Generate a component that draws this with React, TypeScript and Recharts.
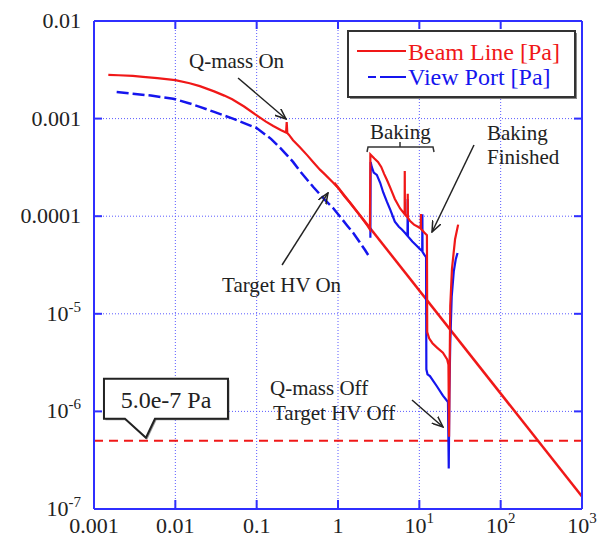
import React from 'react';
import { LineChart, Line, XAxis, YAxis, CartesianGrid, ReferenceLine, ReferenceDot, Legend } from 'recharts';

// ---------- data ----------
const beamTime = [0.0015, 0.002, 0.003, 0.004, 0.006, 0.01, 0.015, 0.02, 0.03, 0.04, 0.05, 0.07, 0.1, 0.13, 0.16, 0.2, 0.23, 0.234, 0.238, 0.25, 0.28, 0.34, 0.42, 0.5, 0.6, 0.7, 0.85, 1.0, 1.2, 1.4, 1.7, 2.0, 2.3, 2.47, 2.5, 2.8, 3.1, 3.4, 3.7, 4.0, 4.4, 5.0, 5.8, 6.6, 6.62, 6.65, 7.15, 7.2, 7.25, 7.7, 8.6, 9.6, 10.4, 10.45, 10.5, 11.5, 12.4, 12.5, 13.2, 14.5, 16.5, 19.5, 22, 22.8, 23.2, 23.6, 24, 25.2, 27.5, 30];
const beamPressure = [2.8e-3, 2.78e-3, 2.74e-3, 2.68e-3, 2.6e-3, 2.48e-3, 2.3e-3, 2.15e-3, 1.9e-3, 1.72e-3, 1.58e-3, 1.33e-3, 1.08e-3, 9.3e-4, 8.4e-4, 7.6e-4, 7.2e-4, 9.2e-4, 7.1e-4, 6.8e-4, 6.0e-4, 5.1e-4, 4.2e-4, 3.55e-4, 3.0e-4, 2.65e-4, 2.25e-4, 1.96e-4, 1.6e-4, 1.38e-4, 1.12e-4, 9.4e-5, 8.0e-5, 7.3e-5, 4.3e-4, 3.9e-4, 3.6e-4, 3.2e-4, 2.7e-4, 2.35e-4, 1.95e-4, 1.5e-4, 1.2e-4, 1.05e-4, 2.9e-4, 1.04e-4, 9.8e-5, 1.7e-4, 9.6e-5, 8.9e-5, 8.2e-5, 7.8e-5, 7.5e-5, 1.05e-4, 7.4e-5, 6.8e-5, 6.4e-5, 6.5e-6, 5.6e-6, 5.0e-6, 4.5e-6, 4.0e-6, 3.4e-6, 3.0e-6, 5.5e-7, 3e-6, 1.2e-5, 2.9e-5, 5.8e-5, 8.2e-5];

const viewTimeA = [0.0019, 0.003, 0.005, 0.0094, 0.015, 0.02, 0.03, 0.051, 0.07, 0.1, 0.15, 0.2, 0.237, 0.28, 0.34, 0.42, 0.5, 0.7, 0.88, 1.05, 1.3, 1.55, 1.85, 2.15, 2.35];
const viewPressureA = [1.87e-3, 1.8e-3, 1.72e-3, 1.6e-3, 1.43e-3, 1.32e-3, 1.17e-3, 1.0e-3, 9.0e-4, 8.0e-4, 6.2e-4, 4.9e-4, 4.2e-4, 3.6e-4, 2.9e-4, 2.35e-4, 1.98e-4, 1.45e-4, 1.2e-4, 1.0e-4, 8.0e-5, 6.7e-5, 5.4e-5, 4.5e-5, 4.0e-5];

const viewTimeB = [2.5, 2.52, 2.6, 2.75, 3.0, 3.3, 3.6, 4.0, 4.4, 5.0, 5.6, 6.1, 6.6, 7.15, 7.2, 7.25, 8.2, 9.2, 10.2, 10.85, 10.9, 10.95, 11.6, 12.1, 12.2, 12.6, 13.5, 16.5, 19.5, 22.5, 23.0, 23.4, 24, 25, 26.5, 28, 29.5];
const viewPressureB = [6.0e-5, 3.6e-4, 3.2e-4, 2.8e-4, 2.65e-4, 2.2e-4, 1.75e-4, 1.4e-4, 1.16e-4, 8.8e-5, 7.8e-5, 7.3e-5, 6.8e-5, 6.3e-5, 1.5e-4, 6.2e-5, 5.5e-5, 5.0e-5, 4.6e-5, 4.4e-5, 1.05e-4, 4.3e-5, 4.0e-5, 3.8e-5, 2.7e-6, 2.4e-6, 2.3e-6, 1.8e-6, 1.45e-6, 1.25e-6, 2.6e-7, 1.5e-6, 5e-6, 1.5e-5, 2.7e-5, 3.6e-5, 4.2e-5];

const fitTime = [0.9, 1000];
const fitPressure = [2.2e-4, 1.34e-7];

const targetPressure = 5e-7;

const xTickValues = [0.001, 0.01, 0.1, 1, 10, 100, 1000];
const xTickBase = ['0.001', '0.01', '0.1', '1', '10', '10', '10'];
const xTickExp = ['', '', '', '', '1', '2', '3'];
const yTickValues = [1e-7, 1e-6, 1e-5, 1e-4, 1e-3, 1e-2];
const yTickBase = ['10', '10', '10', '0.0001', '0.001', '0.01'];
const yTickExp = ['-7', '-6', '-5', '', '', ''];

// annotation texts, anchored in data space (log10 t, log10 P)
const noteTexts = ['Q-mass On', 'Target HV On', 'Baking', 'Baking', 'Finished', 'Q-mass Off', 'Target HV Off'];
const noteLogT = [-1.832, -1.426, 0.394, 1.832, 1.832, -0.836, -0.799];
const noteLogP = [-2.482, -4.777, -3.209, -3.219, -3.465, -5.832, -6.088];

// annotation arrows (log10 coordinates)
const arrowFromLogT = [-1.229, -0.688, 1.672, 0.910];
const arrowFromLogP = [-2.584, -4.5, -3.27, -5.883];
const arrowToLogT = [-0.639, -0.123, 1.156, 1.291];
const arrowToLogP = [-3.004, -3.762, -4.162, -6.16];

const bracketLogT = 0.369;
const bracketLogP = -3.291;
const calloutLogT = -2.361;

// ---------- helpers ----------
const toRows = (ts: number[], ps: number[]) => ts.map((t, i) => ({ t, p: ps[i] }));
const beamData = toRows(beamTime, beamPressure);
const viewDataA = toRows(viewTimeA, viewPressureA);
const viewDataB = toRows(viewTimeB, viewPressureB);
const fitData = toRows(fitTime, fitPressure);

const FONT = '"Liberation Serif", "Times New Roman", serif';
const AXIS = '#2f2fff';
const RED = '#f01818';
const BLUE = '#1515ee';
const INK = '#222';

const idxOf = (arr: number[], v: number) =>
  arr.findIndex((a) => Math.abs(Math.log10(a) - Math.log10(v)) < 0.01);

const LeftTick = (props: any) => {
  const { x, y, payload } = props;
  const i = idxOf(yTickValues, payload.value);
  if (i < 0) return null;
  return (
    <g>
      <line x1={x} y1={y} x2={x + 8} y2={y} stroke={AXIS} strokeWidth={2} />
      <text x={x - 13} y={y + 7} textAnchor="end" fontFamily={FONT} fontSize={22} fill={INK}>
        {yTickBase[i]}
        {yTickExp[i] ? <tspan dy={-9} fontSize={15}>{yTickExp[i]}</tspan> : null}
      </text>
    </g>
  );
};

const BottomTick = (props: any) => {
  const { x, y, payload } = props;
  const i = idxOf(xTickValues, payload.value);
  if (i < 0) return null;
  return (
    <g>
      <line x1={x} y1={y} x2={x} y2={y - 9} stroke={AXIS} strokeWidth={2} />
      <text x={x} y={y + 24} textAnchor="middle" fontFamily={FONT} fontSize={22} fill={INK}>
        {xTickBase[i]}
        {xTickExp[i] ? <tspan dy={-10} fontSize={15}>{xTickExp[i]}</tspan> : null}
      </text>
    </g>
  );
};

const TopTick = (props: any) => {
  const { x, y } = props;
  return <line x1={x} y1={y} x2={x} y2={y + 8} stroke={AXIS} strokeWidth={2} />;
};

const RightTick = (props: any) => {
  const { x, y } = props;
  return <line x1={x} y1={y} x2={x - 8} y2={y} stroke={AXIS} strokeWidth={2} />;
};

const LegendBox = () => (
  <svg width={232} height={71} style={{ display: 'block' }}>
    <rect x={3} y={3} width={227} height={66} fill="#888" />
    <rect x={1} y={1} width={227} height={66} fill="#fff" stroke="#333" strokeWidth={2} />
    <line x1={10} y1={21} x2={59} y2={21} stroke={RED} strokeWidth={2} />
    <text x={61} y={30} fontFamily={FONT} fontSize={24} fill={RED}>Beam Line [Pa]</text>
    <line x1={21} y1={47} x2={59} y2={47} stroke={BLUE} strokeWidth={2} strokeDasharray="8 4 26" />
    <text x={61} y={55} fontFamily={FONT} fontSize={24} fill={BLUE}>View Port [Pa]</text>
  </svg>
);

const noteShape = (label: string) => (p: any) => (
  <text x={p.cx} y={p.cy} fontFamily={FONT} fontSize={21} fill={INK}>{label}</text>
);

const bracketShape = (p: any) => (
  <path
    d={`M${p.cx - 1},${p.cy + 5} L${p.cx},${p.cy} H${p.cx + 65} L${p.cx + 66},${p.cy + 5} M${p.cx + 32},${p.cy} V${p.cy - 5}`}
    fill="none"
    stroke="#333"
    strokeWidth={1.5}
  />
);

const calloutShape = (p: any) => {
  const { cx, cy } = p;
  const d = `M${cx - 42},${cy - 62} H${cx + 82} V${cy - 22} H${cx + 9} L${cx},${cy - 3} L${cx - 21},${cy - 22} H${cx - 42} Z`;
  return (
    <g>
      <path d={d} transform="translate(1.5,1.5)" fill="#999" />
      <path d={d} fill="#fff" stroke={INK} strokeWidth={2} />
      <text x={cx + 20} y={cy - 33} textAnchor="middle" fontFamily={FONT} fontSize={24} fill={INK}>5.0e-7 Pa</text>
    </g>
  );
};

const arrowShape = (p: any) => (
  <line x1={p.x1} y1={p.y1} x2={p.x2} y2={p.y2} stroke={INK} strokeWidth={1.5} markerEnd="url(#annArrow)" />
);

const pow = (v: number) => Math.pow(10, v);

export default function App() {
  return (
    <div style={{ position: 'absolute', left: 0, top: 0, width: 597, height: 538, background: '#fff' }}>
      <svg width={0} height={0} style={{ position: 'absolute' }}>
        <defs>
          <marker id="annArrow" viewBox="0 0 12 10" refX={11} refY={5} markerWidth={12} markerHeight={10} markerUnits="userSpaceOnUse" orient="auto">
            <path d="M0,0.5 L11,5 L0,9.5" fill="none" stroke={INK} strokeWidth={1.5} />
          </marker>
        </defs>
      </svg>
      <LineChart width={597} height={538} margin={{ top: 0, right: 0, bottom: 0, left: 0 }}>
        <CartesianGrid stroke="#5a5aff" strokeDasharray="1 2" strokeWidth={1} />
        <XAxis
          dataKey="t"
          type="number"
          scale="log"
          domain={[0.001, 1000]}
          allowDataOverflow
          ticks={xTickValues}
          interval={0}
          height={29}
          tickSize={0}
          tickMargin={0}
          tickLine={false}
          axisLine={{ stroke: AXIS, strokeWidth: 2 }}
          tick={<BottomTick />}
        />
        <XAxis
          xAxisId="top"
          orientation="top"
          dataKey="t"
          type="number"
          scale="log"
          domain={[0.001, 1000]}
          allowDataOverflow
          ticks={xTickValues}
          interval={0}
          height={21}
          tickSize={0}
          tickMargin={0}
          tickLine={false}
          axisLine={{ stroke: AXIS, strokeWidth: 2 }}
          tick={<TopTick />}
        />
        <YAxis
          type="number"
          scale="log"
          domain={[1e-7, 0.01]}
          allowDataOverflow
          ticks={yTickValues}
          interval={0}
          width={94}
          tickSize={0}
          tickMargin={0}
          tickLine={false}
          axisLine={{ stroke: AXIS, strokeWidth: 2 }}
          tick={<LeftTick />}
        />
        <YAxis
          yAxisId="right"
          orientation="right"
          type="number"
          scale="log"
          domain={[1e-7, 0.01]}
          allowDataOverflow
          ticks={yTickValues}
          interval={0}
          width={15}
          tickSize={0}
          tickMargin={0}
          tickLine={false}
          axisLine={{ stroke: AXIS, strokeWidth: 2 }}
          tick={<RightTick />}
        />
        <ReferenceLine y={targetPressure} stroke={RED} strokeWidth={2} strokeDasharray="9 6" ifOverflow="visible" />
        <Line data={fitData} dataKey="p" type="linear" stroke={RED} strokeWidth={2.5} dot={false} isAnimationActive={false} />
        <Line data={viewDataA} dataKey="p" type="linear" stroke={BLUE} strokeWidth={2.5} strokeDasharray="12 4" dot={false} isAnimationActive={false} />
        <Line data={viewDataB} dataKey="p" type="linear" stroke={BLUE} strokeWidth={2.2} dot={false} isAnimationActive={false} />
        <Line data={beamData} dataKey="p" type="linear" stroke={RED} strokeWidth={2.2} dot={false} isAnimationActive={false} />
        {arrowFromLogT.map((_, i) => (
          <ReferenceLine
            key={`arr${i}`}
            segment={[
              { x: pow(arrowFromLogT[i]), y: pow(arrowFromLogP[i]) },
              { x: pow(arrowToLogT[i]), y: pow(arrowToLogP[i]) },
            ]}
            ifOverflow="visible"
            shape={arrowShape}
          />
        ))}
        {noteTexts.map((label, i) => (
          <ReferenceDot key={`note${i}`} x={pow(noteLogT[i])} y={pow(noteLogP[i])} ifOverflow="visible" shape={noteShape(label)} />
        ))}
        <ReferenceDot x={pow(bracketLogT)} y={pow(bracketLogP)} ifOverflow="visible" shape={bracketShape} />
        <ReferenceDot x={pow(calloutLogT)} y={targetPressure} ifOverflow="visible" shape={calloutShape} />
        <Legend
          layout="vertical"
          align="center"
          verticalAlign="middle"
          content={() => <LegendBox />}
          wrapperStyle={{ left: 347, top: 30, width: 232, height: 71 }}
        />
      </LineChart>
    </div>
  );
}
